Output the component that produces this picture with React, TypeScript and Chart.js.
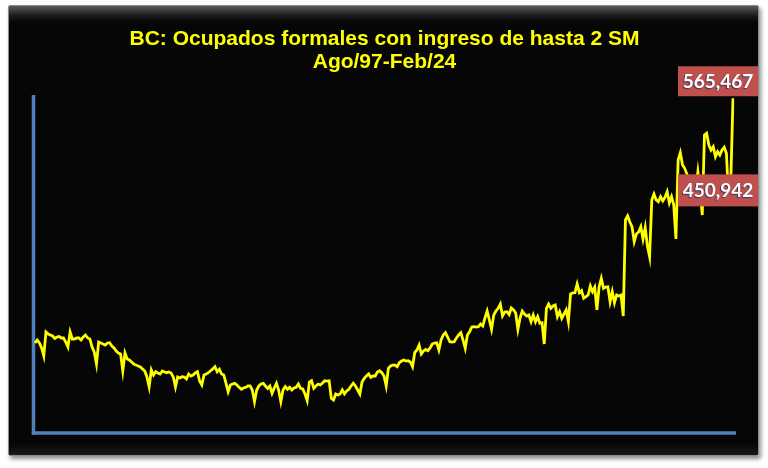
import { useEffect, useRef } from "react";
import { Chart, registerables } from "chart.js";

Chart.register(...registerables);

const TITULO = ["BC: Ocupados formales con ingreso de hasta 2 SM", "Ago/97-Feb/24"];
const MESES = ["Ene", "Feb", "Mar", "Abr", "May", "Jun", "Jul", "Ago", "Sep", "Oct", "Nov", "Dic"];
const ANIO_INICIO = 1997;
const MES_INICIO = 7; // Ago

// Ocupados formales con ingreso de hasta 2 SM (personas), Ago/97 - Feb/24
const ocupados: number[] = [
  224100, 228300, 224100, 217200, 206000,
  239500, 236700, 235300, 233900, 230400, 232500, 233200, 231100, 231100, 225500, 218500, 239500,
  229700, 229700, 231100, 231100, 228300, 232500, 235300, 231100, 229700, 218500, 211600, 194800,
  225500, 224100, 222700, 221300, 224100, 224500, 219900, 217200, 213000, 210200, 208800, 185100,
  210200, 201800, 200400, 197600, 194800, 193400, 192100, 190700, 187900, 185100, 176700, 162800,
  186500, 179500, 184100, 182300, 180900, 185100, 183700, 182700, 183700, 182300, 176700, 162800,
  176700, 175300, 177100, 176700, 173900, 180900, 178100, 179500, 182300, 184100, 171100, 165600,
  179500, 180900, 182700, 185500, 187900, 191100, 184100, 187400, 180900, 179500, 168300, 156200,
  165600, 166900, 167900, 165600, 162300, 159600, 161400, 162300, 164200, 164200, 158600, 142300,
  158600, 164200, 166900, 167900, 164200, 160900, 164200, 154000, 161400, 167900, 158600, 142300,
  158600, 163200, 159600, 162300, 158600, 161400, 162300, 166900, 160900, 160000, 153000, 143700,
  169700, 171500, 160900, 164200, 166900, 165600, 168300, 171500, 171100, 171500, 147000, 144600,
  153000, 151600, 153000, 158600, 153000, 157200, 159600, 164200, 167900, 164200, 158600, 153000,
  169700, 174900, 178100, 180900, 176300, 178100, 178100, 183700, 185500, 182700, 178100, 164200,
  188800, 192100, 193400, 193400, 191100, 196700, 199000, 200400, 199000, 199400, 197600, 191100,
  210600, 214400, 221300, 208800, 213000, 215300, 213400, 217200, 222700, 224100, 224500, 214400,
  228300, 235300, 238500, 232500, 225900, 225500, 225900, 231100, 235300, 238500, 228300, 216700,
  235300, 239900, 246400, 246900, 246400, 246900, 250600, 247800, 259000, 268800, 256200, 243200,
  263200, 268800, 272500, 278500, 261800, 267400, 267800, 263900, 272900, 270200, 266000, 243200,
  259000, 268800, 264600, 261800, 263200, 253800, 263200, 253800, 260800, 251600, 252400, 222700,
  272500, 278500, 272500, 275700, 277100, 260800, 267800, 258600, 264600, 270200, 253800, 292500,
  293900, 294300, 306400, 294300, 297100, 286500, 288700, 291100, 303600, 295700, 301800, 270200,
  302600, 314400, 300400, 302200, 302600, 281700, 295700, 280300, 291100, 289700, 291100, 261800,
  395700, 401300, 392900, 385900, 365400, 376200, 378900, 386300, 369200, 385200, 359400, 344500,
  423600, 431900, 423600, 421200, 428200, 422200, 427300, 435100, 419400, 428200, 416600, 369200,
  479400, 489500, 472400, 467800, 459800, 444500, 437500, 444500, 437500, 463000, 437500, 402600,
  514200, 516600, 500300, 493300, 497900, 484000, 490900, 486300, 493300, 497100, 488700, 423600,
  450942, 565467,
];

const periodos: string[] = ocupados.map((_, i) => {
  const m = MES_INICIO + i;
  const anio = (ANIO_INICIO + Math.floor(m / 12)) % 100;
  return `${MESES[m % 12]}/${String(anio).padStart(2, "0")}`;
});

const Y_MIN = 100000;
const Y_MAX = 570000;

const COLOR_LINEA = "#FFFF00";
const COLOR_EJE = "#4F81BD";
const COLOR_ETIQUETA = "#C0504D";

const ejesPlugin = {
  id: "ejesPropios",
  beforeDatasetsDraw(chart: any) {
    const { ctx, chartArea } = chart;
    ctx.save();
    ctx.strokeStyle = COLOR_EJE;
    ctx.lineWidth = 3.5;
    ctx.lineCap = "butt";
    ctx.beginPath();
    ctx.moveTo(chartArea.left - 1.5, chartArea.top);
    ctx.lineTo(chartArea.left - 1.5, chartArea.bottom + 2.7);
    ctx.stroke();
    ctx.beginPath();
    ctx.moveTo(chartArea.left - 3.2, chartArea.bottom + 1);
    ctx.lineTo(chartArea.right + 3, chartArea.bottom + 1);
    ctx.stroke();
    ctx.restore();
  },
};

function caja(ctx: CanvasRenderingContext2D, texto: string, right: number, top: number, w: number, h: number) {
  ctx.fillStyle = COLOR_ETIQUETA;
  ctx.fillRect(right - w, top, w, h);
  ctx.font = "bold 19px Lato, 'Open Sans', sans-serif";
  ctx.textAlign = "center";
  ctx.textBaseline = "middle";
  ctx.save();
  ctx.shadowColor = "rgba(31,56,100,0.9)";
  ctx.shadowOffsetX = -1;
  ctx.shadowOffsetY = 0.5;
  ctx.shadowBlur = 1;
  ctx.fillStyle = "#FFFFFF";
  ctx.fillText(texto, right - w / 2, top + h / 2 + 1);
  ctx.restore();
}

const etiquetasPlugin = {
  id: "etiquetasValores",
  afterDatasetsDraw(chart: any) {
    const { ctx } = chart;
    const meta = chart.getDatasetMeta(0);
    const n = ocupados.length;
    const ultimo = meta.data[n - 1];
    const previo = meta.data[n - 2];
    const right = chart.width - 10;
    ctx.save();
    caja(ctx, ocupados[n - 1].toLocaleString("en-US"), right, ultimo.y - 32, 80, 30);
    caja(ctx, ocupados[n - 2].toLocaleString("en-US"), right, previo.y - 6, 80, 32);
    ctx.restore();
  },
};

export default function App() {
  const ref = useRef<HTMLCanvasElement | null>(null);

  useEffect(() => {
    if (!ref.current) return;
    const chart = new Chart(ref.current, {
      type: "line",
      data: {
        labels: periodos,
        datasets: [
          {
            data: ocupados,
            borderColor: COLOR_LINEA,
            borderWidth: 2.8,
            pointRadius: 0,
            tension: 0,
            fill: false,
          },
        ],
      },
      options: {
        responsive: false,
        animation: false,
        devicePixelRatio: 1,
        layout: { padding: { left: 35, top: 95, right: 35, bottom: 36 } },
        plugins: { legend: { display: false }, title: { display: false }, tooltip: { enabled: false } },
        scales: {
          x: { type: "category", display: false, offset: false },
          y: { display: false, min: Y_MIN, max: Y_MAX },
        },
      },
      plugins: [ejesPlugin, etiquetasPlugin],
    });
    return () => chart.destroy();
  }, []);

  return (
    <div style={{ position: "absolute", left: 0, top: 0, width: 768, height: 468, background: "#ffffff", overflow: "hidden" }}>
      <div
        style={{
          position: "absolute",
          left: 8,
          top: 5,
          width: 749,
          height: 449,
          border: "1px solid #8a8a8a",
          borderRadius: 2,
          background:
            "linear-gradient(to bottom, #5a5a5a 0px, #1e1e1e 9px, #060606 16px, #060606 calc(100% - 12px), #181818 100%)",
          boxShadow: "2px 3px 4px rgba(0,0,0,0.45)",
        }}
      />
      <canvas ref={ref} width={768} height={468} style={{ position: "absolute", left: 0, top: 0, width: 768, height: 468 }} />
      <div
        style={{
          position: "absolute",
          left: 0,
          top: 26,
          width: 769,
          textAlign: "center",
          color: COLOR_LINEA,
          fontFamily: "'Liberation Sans', Arial, sans-serif",
          fontWeight: "bold",
          fontSize: 21,
          lineHeight: "23px",
          pointerEvents: "none",
        }}
      >
        {TITULO.map((t) => (
          <div key={t}>{t}</div>
        ))}
      </div>
    </div>
  );
}
